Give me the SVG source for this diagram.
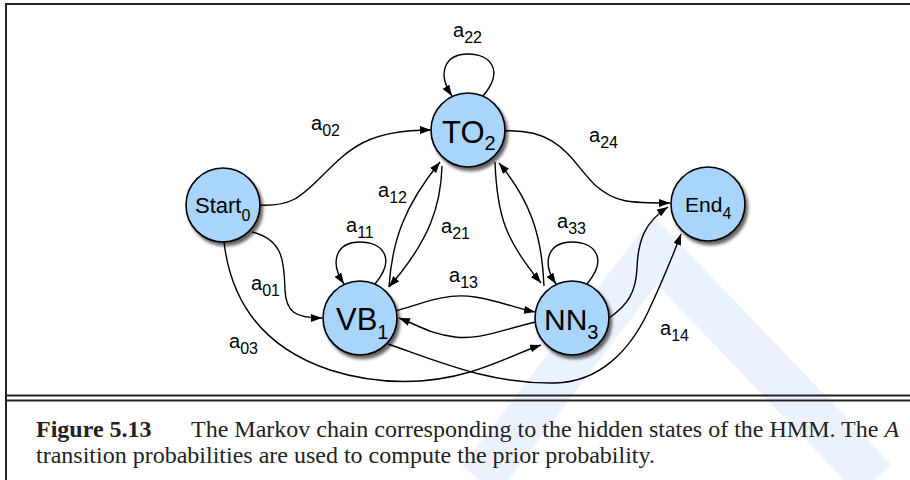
<svg xmlns="http://www.w3.org/2000/svg" width="910" height="480" viewBox="0 0 910 480">
  <defs>
    <marker id="arr" markerUnits="userSpaceOnUse" markerWidth="12" markerHeight="9" refX="11" refY="4" orient="auto">
      <path d="M0,0 L11,4 L0,8 z" fill="#000"/>
    </marker>
    <filter id="shadow" x="-30%" y="-30%" width="160%" height="160%">
      <feDropShadow dx="2.5" dy="3.5" stdDeviation="1.8" flood-color="#000" flood-opacity="0.6"/>
    </filter>
  </defs>
  <style>
    .node { fill: #a9d4fb; stroke: #000; stroke-width: 1.6; filter: url(#shadow); }
    .edge { fill: none; stroke: #000; stroke-width: 1.4; marker-end: url(#arr); }
    .lbl { font-family: "Liberation Sans", Arial, sans-serif; fill: #000; }
    .el { font-family: "Liberation Sans", Arial, sans-serif; font-size: 20px; fill: #000; }
    .sub { font-size: 16px; }
    .cap { font-family: "Liberation Serif", "Times New Roman", serif; font-size: 24px; fill: #222; }
    .frame { stroke: #222; stroke-width: 2; fill: none; }
    .wm { fill: none; stroke: #ecf2fd; stroke-width: 45; }
  </style>
  <rect width="910" height="480" fill="#fff"/>

  <!-- watermark -->
  <polyline class="wm" points="480,480 655,250 875,480"/>

  <!-- frame -->
  <line class="frame" x1="6" y1="4" x2="910" y2="4"/>
  <line class="frame" x1="6" y1="3" x2="6" y2="480"/>
  <line class="frame" x1="6" y1="395.5" x2="910" y2="395.5"/>
  <line class="frame" x1="6" y1="400.5" x2="910" y2="400.5"/>

  <g id="connectors">
    <path class="edge" d="M483,96 C505,70 490,54 468,54 C446,54 436,72 452,96"/>
    <path class="edge" d="M375,284 C397,258 382,242 360,242 C338,242 328,260 344,284"/>
    <path class="edge" d="M587,284 C609,258 594,242 572,242 C550,242 540,260 556,284"/>
    <path class="edge" d="M258,205 C290,207 300,198 322,176 C350,148 368,130 431,130"/>
    <path class="edge" d="M503,131 C560,128 570,160 595,185 C615,203 630,203 670,203"/>
    <path class="edge" d="M389,287 C392,240 405,205 440,162"/>
    <path class="edge" d="M442,166 C441,205 430,240 389,287"/>
    <path class="edge" d="M495,162 C497,215 505,240 541,283"/>
    <path class="edge" d="M544,286 C542,235 530,200 499,163"/>
    <path class="edge" d="M396,311 C430,300 450,293 475,297 C500,301 515,308 535,312"/>
    <path class="edge" d="M536,322 C500,330 480,340 455,337 C430,334 420,326 399,318"/>
    <path class="edge" d="M252,232 C285,240 284,265 285,290 C286,312 295,318 322,318"/>
    <path class="edge" d="M224,242 C232,310 270,350 330,370 C380,386 430,384 470,372 C500,363 520,352 541,345"/>
    <path class="edge" d="M388,344 C440,362 490,384 555,383 C600,382 630,350 648,312 C662,282 672,258 681,234"/>
    <path class="edge" d="M609,318 C628,305 636,292 637,268 C638,240 645,222 668,207"/>
  </g>

  <g id="edge-labels">
    <text class="el" x="453" y="37">a<tspan class="sub" dy="6">22</tspan></text>
    <text class="el" x="311" y="130">a<tspan class="sub" dy="6">02</tspan></text>
    <text class="el" x="589" y="142">a<tspan class="sub" dy="6">24</tspan></text>
    <text class="el" x="378" y="197">a<tspan class="sub" dy="6">12</tspan></text>
    <text class="el" x="441" y="233">a<tspan class="sub" dy="6">21</tspan></text>
    <text class="el" x="346" y="232">a<tspan class="sub" dy="6">11</tspan></text>
    <text class="el" x="251" y="290">a<tspan class="sub" dy="6">01</tspan></text>
    <text class="el" x="229" y="348">a<tspan class="sub" dy="6">03</tspan></text>
    <text class="el" x="449" y="282">a<tspan class="sub" dy="6">13</tspan></text>
    <text class="el" x="557" y="228">a<tspan class="sub" dy="6">33</tspan></text>
    <text class="el" x="660" y="335">a<tspan class="sub" dy="6">14</tspan></text>
  </g>

  <g id="start">
    <circle class="node" cx="223" cy="205" r="37"/>
    <text class="lbl" x="195" y="213" font-size="22">Start<tspan font-size="16" dy="8">0</tspan></text>
  </g>
  <g id="to">
    <circle class="node" cx="468" cy="130" r="37"/>
    <text class="lbl" x="442" y="143" font-size="31">TO<tspan font-size="20" dy="7">2</tspan></text>
  </g>
  <g id="vb">
    <circle class="node" cx="360" cy="318" r="37"/>
    <text class="lbl" x="336" y="330" font-size="31">VB<tspan font-size="20" dy="9">1</tspan></text>
  </g>
  <g id="nn">
    <circle class="node" cx="572" cy="318" r="37"/>
    <text class="lbl" x="544" y="330" font-size="30">NN<tspan font-size="20" dy="9">3</tspan></text>
  </g>
  <g id="end">
    <circle class="node" cx="708" cy="204" r="37"/>
    <text class="lbl" x="685" y="212" font-size="21">End<tspan font-size="16" dy="7">4</tspan></text>
  </g>

  <g id="caption">
    <text class="cap" x="36" y="437" font-weight="bold">Figure 5.13</text>
    <text class="cap" x="191" y="437">The Markov chain corresponding to the hidden states of the HMM. The <tspan font-style="italic">A</tspan></text>
    <text class="cap" x="36" y="463">transition probabilities are used to compute the prior probability.</text>
  </g>
</svg>
